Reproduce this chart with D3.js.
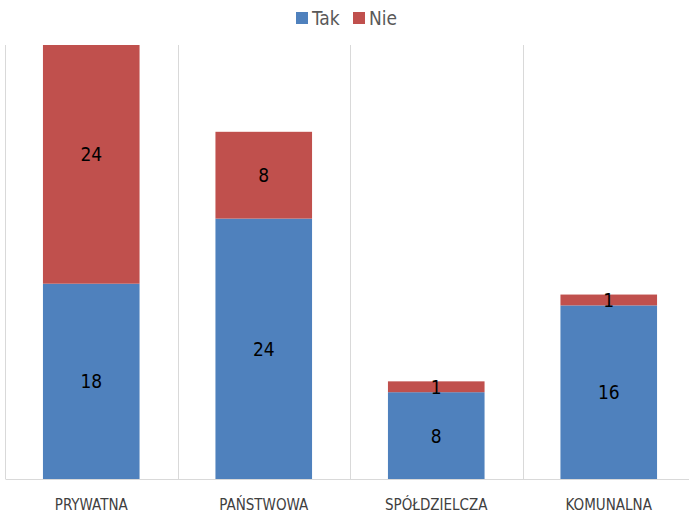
<!DOCTYPE html>
<html>
<head>
<meta charset="utf-8">
<script src="https://cdn.jsdelivr.net/npm/d3@7"></script>
<style>
  html, body { margin: 0; padding: 0; background: #fff; }
  svg { display: block; font-family: "Liberation Sans Narrow", "DejaVu Sans Condensed", "Roboto", sans-serif; }
</style>
</head>
<body>
<svg id="chart" width="689" height="514"></svg>
<script>
// Ownership types and answer counts
const categories = ["PRYWATNA", "PAŃSTWOWA", "SPÓŁDZIELCZA", "KOMUNALNA"];
const seriesNames = ["Tak", "Nie"];
const takValues = [18, 24, 8, 16];
const nieValues = [24, 8, 1, 1];
const yMax = 40;

const colors = { "Tak": "#4f81bd", "Nie": "#c0504d" };

const svg = d3.select("#chart");
const W = 689, H = 514;
const margin = { top: 45, right: -6, bottom: 35, left: 5 };
const plotW = W - margin.left - margin.right;
const plotH = H - margin.top - margin.bottom;

const rows = categories.map((c, i) => ({ category: c, Tak: takValues[i], Nie: nieValues[i] }));
const stacked = d3.stack().keys(seriesNames)(rows);

const x = d3.scaleBand().domain(categories).range([margin.left, margin.left + plotW]).paddingInner(0).paddingOuter(0);
const y = d3.scaleLinear().domain([0, yMax]).range([margin.top + plotH, margin.top]);
const barW = x.bandwidth() * 0.56;

// Vertical separators between categories
const edges = categories.map(c => x(c)).concat([x(categories[categories.length - 1]) + x.bandwidth()]);
svg.append("g").selectAll("line").data(edges).join("line")
  .attr("x1", d => Math.round(d) + 0.5).attr("x2", d => Math.round(d) + 0.5)
  .attr("y1", y(yMax)).attr("y2", y(0))
  .attr("stroke", "#d9d9d9").attr("stroke-width", 1);

// Clip to the plotting area so bars above the axis maximum are cut off
svg.append("defs").append("clipPath").attr("id", "plotClip")
  .append("rect").attr("x", 0).attr("y", y(yMax)).attr("width", W).attr("height", y(0) - y(yMax));

const barsG = svg.append("g").attr("clip-path", "url(#plotClip)");
stacked.forEach(layer => {
  barsG.append("g").selectAll("rect").data(layer).join("rect")
    .attr("x", d => x(d.data.category) + (x.bandwidth() - barW) / 2)
    .attr("y", d => y(d[1]))
    .attr("width", barW)
    .attr("height", d => y(d[0]) - y(d[1]))
    .attr("fill", colors[layer.key]);
});

// Baseline axis
svg.append("g")
  .attr("transform", `translate(0,${y(0)})`)
  .call(d3.axisBottom(x).tickSize(0).tickPadding(20))
  .call(g => g.select(".domain").attr("stroke", "#d9d9d9"))
  .call(g => g.selectAll("text").attr("font-size", 15).attr("fill", "#404040")
    .attr("font-family", "'Liberation Sans Narrow', 'DejaVu Sans Condensed', sans-serif"));

// Value labels in the middle of each segment
stacked.forEach(layer => {
  svg.append("g").selectAll("text").data(layer).join("text")
    .attr("x", d => x(d.data.category) + x.bandwidth() / 2)
    .attr("y", d => (y(d[0]) + y(d[1])) / 2)
    .attr("text-anchor", "middle")
    .attr("dominant-baseline", "central")
    .attr("font-size", 19)
    .attr("fill", "#000")
    .text(d => d[1] - d[0]);
});

// Legend
const legend = svg.append("g").attr("transform", "translate(296,18)");
const legendItems = [{ key: "Tak", dx: 0 }, { key: "Nie", dx: 57 }];
legendItems.forEach(item => {
  const g = legend.append("g").attr("transform", `translate(${item.dx},0)`);
  g.append("rect").attr("x", 0).attr("y", -6).attr("width", 12).attr("height", 12).attr("fill", colors[item.key]);
  g.append("text").attr("x", 16).attr("y", 0).attr("dominant-baseline", "central")
    .attr("font-size", 19).attr("fill", "#595959").text(item.key);
});
</script>
</body>
</html>
